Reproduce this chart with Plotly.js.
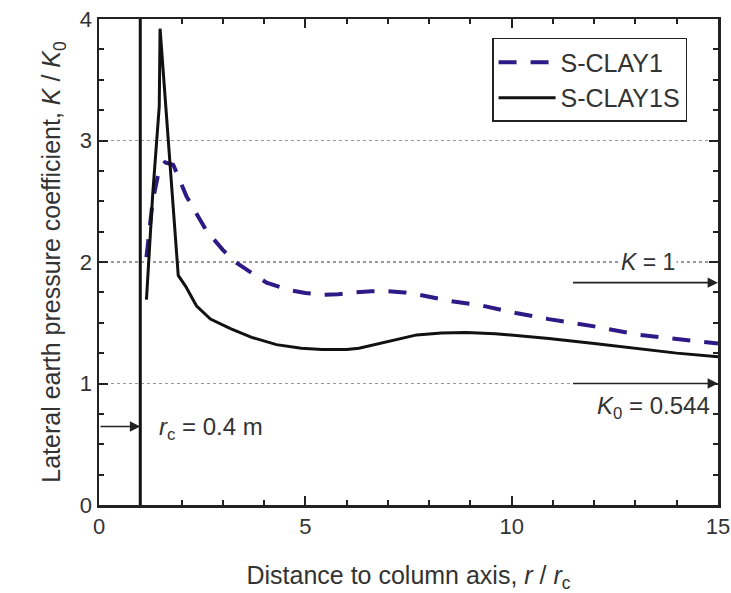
<!DOCTYPE html>
<html>
<head>
<meta charset="utf-8">
<script src="https://cdn.plot.ly/plotly-3.0.1.min.js"></script>
<style>html,body{margin:0;padding:0;background:#fff;}#chart{width:731px;height:593px;}</style>
</head>
<body>
<div id="chart"></div>
<script>
// S-CLAY1 (dashed)
const xClay1 = [1.15, 1.3, 1.45, 1.6, 1.8, 2.12, 2.6, 3.0, 3.3, 3.74, 4.06, 4.6, 5.0, 5.43, 5.8, 6.16, 6.6, 6.97, 7.4, 7.77, 8.5, 9.3, 10.1, 10.9, 12.0, 13.1, 14.0, 15.0];
const yClay1 = [2.04, 2.5, 2.75, 2.82, 2.8, 2.54, 2.26, 2.10, 2.0, 1.90, 1.83, 1.77, 1.745, 1.73, 1.735, 1.75, 1.76, 1.76, 1.75, 1.73, 1.68, 1.64, 1.58, 1.53, 1.47, 1.40, 1.37, 1.33];
// S-CLAY1S (solid)
const xClay1S = [1.15, 1.3, 1.46, 1.48, 1.92, 2.1, 2.36, 2.7, 3.2, 3.7, 4.3, 4.9, 5.4, 6.0, 6.3, 6.8, 7.3, 7.7, 8.3, 8.9, 9.6, 10.3, 10.9, 12.0, 13.0, 14.0, 15.0];
const yClay1S = [1.69, 2.55, 3.28, 3.92, 1.89, 1.80, 1.64, 1.53, 1.45, 1.38, 1.32, 1.29, 1.28, 1.28, 1.29, 1.33, 1.37, 1.40, 1.415, 1.42, 1.41, 1.39, 1.37, 1.33, 1.29, 1.25, 1.22];
const seriesNames = ['S-CLAY1', 'S-CLAY1S'];
const columnEdge = 1;          // r / rc = 1
const kLevel = 1.83;           // K = 1 arrow level
const k0Level = 1.0;           // K0 arrow level
const rcLevel = 0.646;         // rc arrow level
const arrowStart = 11.45;

const font = 'Liberation Sans, Arial, sans-serif';
const txt = '#333';

const traces = [
  {x: xClay1, y: yClay1, name: seriesNames[0], mode: 'lines', type: 'scatter',
   line: {color: '#2e1a87', width: 4, dash: '18px,14px'}},
  {x: xClay1S, y: yClay1S, name: seriesNames[1], mode: 'lines', type: 'scatter',
   line: {color: '#111', width: 3}}
];

function axis(extra) {
  return Object.assign({
    showline: true, linecolor: '#222', linewidth: 2.5, mirror: 'ticks',
    ticks: 'inside', ticklen: 9, tickwidth: 2, tickcolor: '#222',
    zeroline: false, tickfont: {family: font, size: 22, color: txt}
  }, extra);
}

const layout = {
  width: 731, height: 593,
  margin: {l: 99, r: 13, t: 19, b: 88},
  paper_bgcolor: '#fff', plot_bgcolor: '#fff',
  font: {family: font, size: 22, color: txt},
  showlegend: true,
  legend: {x: 0.635, y: 0.961, xanchor: 'left', yanchor: 'top',
    bordercolor: '#222', borderwidth: 1.5, bgcolor: '#fff',
    font: {family: font, size: 25, color: txt}, itemwidth: 57},
  xaxis: axis({
    range: [0, 15], dtick: 5, tick0: 0, showgrid: false,
    minor: {dtick: 1, ticks: 'inside', ticklen: 5, tickwidth: 2, tickcolor: '#222', showgrid: false},
    title: {text: 'Distance to column axis, <i>r</i> / <i>r</i><sub>c</sub>', font: {family: font, size: 25, color: txt}, standoff: 29}
  }),
  yaxis: axis({
    range: [0, 4], dtick: 1, tick0: 0, showgrid: true,
    gridcolor: '#999', griddash: 'dot', gridwidth: 1.5,
    minor: {dtick: 0.25, ticks: 'inside', ticklen: 5, tickwidth: 2, tickcolor: '#222', showgrid: false},
    title: {text: 'Lateral earth pressure coefficient, <i>K</i> / <i>K</i><sub>0</sub>', font: {family: font, size: 25, color: txt}, standoff: 12}
  }),
  shapes: [
    {type: 'line', xref: 'x', yref: 'y', x0: columnEdge, x1: columnEdge, y0: 0, y1: 4,
     line: {color: '#111', width: 3}}
  ],
  annotations: [
    {x: 15, y: kLevel, ax: arrowStart, ay: kLevel, xref: 'x', yref: 'y', axref: 'x', ayref: 'y',
     text: '', showarrow: true, arrowhead: 2, arrowsize: 1.3, arrowwidth: 1.6, arrowcolor: '#222'},
    {x: 15, y: k0Level, ax: arrowStart, ay: k0Level, xref: 'x', yref: 'y', axref: 'x', ayref: 'y',
     text: '', showarrow: true, arrowhead: 2, arrowsize: 1.3, arrowwidth: 1.6, arrowcolor: '#222'},
    {x: columnEdge, y: rcLevel, ax: 0, ay: rcLevel, xref: 'x', yref: 'y', axref: 'x', ayref: 'y',
     text: '', showarrow: true, arrowhead: 2, arrowsize: 1.3, arrowwidth: 1.6, arrowcolor: '#222'},
    {x: 13.3, y: 2.0, xref: 'x', yref: 'y', text: '<i>K</i> = 1', showarrow: false,
     bgcolor: '#fff', font: {family: font, size: 23, color: txt}},
    {x: 14.85, y: 0.8, xref: 'x', yref: 'y', xanchor: 'right', text: '<i>K</i><sub>0</sub> = 0.544', showarrow: false,
     font: {family: font, size: 24, color: txt}},
    {x: 1.4, y: 0.63, xref: 'x', yref: 'y', xanchor: 'left', text: '<i>r</i><sub>c</sub> = 0.4 m', showarrow: false,
     font: {family: font, size: 24, color: txt}}
  ]
};

Plotly.newPlot('chart', traces, layout, {displayModeBar: false, staticPlot: true});
</script>
</body>
</html>
